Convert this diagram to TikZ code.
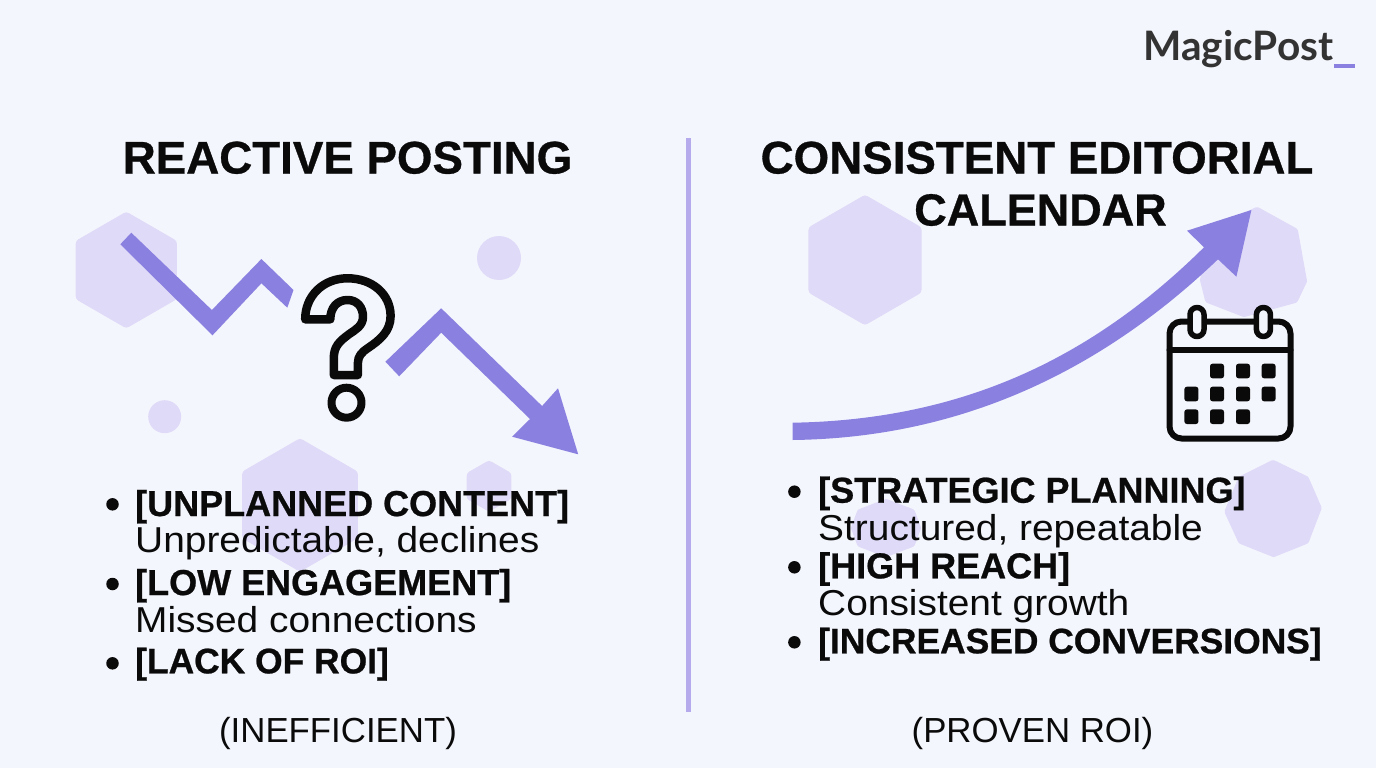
\documentclass[tikz,border=0pt]{standalone}
\usepackage{fontspec}
\setmainfont{Liberation Sans}
\newfontfamily\logofont{Lato}
\newfontfamily\bodyfont[FakeStretch=1.08]{Liberation Sans}
\newfontfamily\heavyfont[FakeBold=0.7]{Liberation Sans Bold}
\definecolor{bgc}{HTML}{F4F6FD}
\definecolor{pur}{HTML}{8A80E0}
\definecolor{hexc}{HTML}{DFDAF8}
\definecolor{divc}{HTML}{B5ABEC}
\definecolor{ink}{HTML}{0A0A0A}
\definecolor{logoc}{HTML}{333333}
\tikzset{
  hexa/.style={fill=hexc,draw=hexc,line width=10pt,line join=round},
  softpoly/.style={fill=hexc,draw=hexc,line width=6pt,line join=round},
  arrowshape/.style={fill=pur},
  heading/.style={font=\heavyfont\fontsize{45.7}{54}\selectfont,text=ink,anchor=base,inner sep=0pt},
  bodytext/.style={font=\bodyfont\fontsize{36}{38}\selectfont,text=ink,anchor=base west,inner sep=0pt},
  boldtext/.style={font=\heavyfont\fontsize{36}{38}\selectfont,text=ink,anchor=base west,inner sep=0pt},
  bulletdot/.style={circle,fill=ink,inner sep=0pt,minimum size=12.5pt},
  foot/.style={font=\fontsize{34.8}{40}\selectfont,text=ink,anchor=base,inner sep=0pt},
  iconline/.style={draw=ink,line join=round,line cap=round},
  dotcell/.style={fill=ink,rounded corners=2.5pt}
}
\newcommand{\hexat}[3]{\path[hexa] (#1,#2-#3+5) -- ++(0.866*#3-4.33,0.5*#3-2.5) -- ++(0,#3-5) -- ++(-0.866*#3+4.33,0.5*#3-2.5) -- ++(-0.866*#3+4.33,-0.5*#3+2.5) -- ++(0,-#3+5) -- cycle;}
\begin{document}
\begin{tikzpicture}[x=1pt,y=-1pt]
\useasboundingbox (0,0) rectangle (1376,768);
\fill[bgc] (0,0) rectangle (1376,768);
% decorative shapes
\hexat{126.3}{270}{57.6}
\hexat{300}{505}{66}
\hexat{489}{486}{25}
\hexat{865}{260}{64.5}
\fill[hexc] (499,258) circle (22);
\fill[hexc] (164.7,416.7) circle (16.5);
\path[softpoly] (1257,210) -- (1295,231) -- (1304,281) -- (1295,300) -- (1244,314) -- (1208,300) -- (1203,280) -- (1215,230) -- cycle;
\path[softpoly] (1273,463) -- (1306,479) -- (1318.6,508) -- (1306,541) -- (1273.6,554) -- (1241,541) -- (1227.5,511.7) -- (1241,479) -- cycle;
\path[softpoly] (886,502) -- (912,512) -- (918,528) -- (912,544) -- (886,554) -- (860,544) -- (854,528) -- (860,512) -- cycle;
% divider
\fill[divc] (685.5,138) rectangle (690.5,712);
% zigzag
\fill[arrowshape] (120.3,244.3) -- (131.3,232.7) -- (211.9,310) -- (261.4,259) -- (293.5,290) -- (287.3,307.7) -- (261.4,283.3) -- (212.5,335.3) -- cycle;
\fill[arrowshape] (385.4,361.7) -- (441.2,308.3) -- (542.1,406) -- (558,388.3) -- (578.2,454.3) -- (512.1,436.7) -- (530,419) -- (441.2,332.7) -- (399.2,376.3) -- cycle;
% question mark
\draw[iconline,line width=8.5pt] (305.2,319.3) -- (330.3,319.3) .. controls (330.3,308) and (337,300) .. (347.5,300) .. controls (357,300) and (363,307) .. (363,316.7) .. controls (363,326) and (355,330) .. (349.3,334) .. controls (340,341) and (333.8,346) .. (333.8,358) -- (333.8,375) -- (357.9,375) -- (357.9,363) .. controls (357.9,356) and (362,352) .. (368,348) .. controls (380,340) and (390.6,331) .. (390.6,316) .. controls (390.6,294) and (372,278.3) .. (347.5,278.3) .. controls (323,278.3) and (305.2,296) .. (305.2,319.3) -- cycle;
\draw[iconline,line width=8pt] (346.5,402.7) circle (15);
% rising arrow
\fill[arrowshape] (792.5,422.7) .. controls (960,420) and (1090,360) .. (1204,247.3) -- (1187,230.7) -- (1251.4,210) -- (1236.4,276.7) -- (1218,259.3) .. controls (1100,372) and (960,438) .. (792.5,440) -- cycle;
% calendar
\draw[iconline,line width=6pt,rounded corners=12pt] (1169.5,321.5) rectangle (1290.5,438.5);
\draw[iconline,line width=6pt] (1169.5,349.5) -- (1290.5,349.5);
\draw[iconline,line width=5.5pt,fill=bgc,rounded corners=7pt] (1190,307.5) rectangle (1204,336.5);
\draw[iconline,line width=5.5pt,fill=bgc,rounded corners=7pt] (1256.4,307.5) rectangle (1270.4,336.5);
\foreach \cx/\cy in {1217/371,1243/371,1268.6/371,1191.4/394,1217/394,1243/394,1268.6/394,1191.4/416.7,1217/416.7,1243/416.7}
  \fill[dotcell] (\cx-7,\cy-7.3) rectangle (\cx+7,\cy+7.3);
% logo
\node[font=\logofont\fontsize{40.6}{44}\selectfont\bfseries,text=logoc,anchor=base west,inner sep=0pt] (logo) at (1143,60) {MagicPost};
\fill[pur] (1333.5,64) rectangle (1355,67.7);
% headings
\node[heading] (h1) at (347.5,173.5) {REACTIVE POSTING};
\node[heading] (h2) at (1037,173.5) {CONSISTENT EDITORIAL};
\node[heading,font=\heavyfont\fontsize{45}{54}\selectfont] (h3) at (1040.5,225.5) {CALENDAR};
% left list
\node[bulletdot] (b1) at (112.5,504.3) {};
\node[boldtext] (t1) at (135,516) {[UNPLANNED CONTENT]};
\node[bodytext] (t1a) at (135,552.7) {Unpredictable, declines};
\node[bulletdot] (b2) at (112.5,584) {};
\node[boldtext] (t2) at (135,595) {[LOW ENGAGEMENT]};
\node[bodytext] (t2a) at (135,632.7) {Missed connections};
\node[bulletdot] (b3) at (112.5,663.3) {};
\node[boldtext,font=\heavyfont\fontsize{35.4}{38}\selectfont] (t3) at (135,673.3) {[LACK OF ROI]};
% right list
\node[bulletdot] (b4) at (794.4,491.7) {};
\node[boldtext] (t4) at (818,502.7) {[STRATEGIC PLANNING]};
\node[bodytext] (t4a) at (818,540) {Structured, repeatable};
\node[bulletdot] (b5) at (794.4,567.3) {};
\node[boldtext] (t5) at (818,578.3) {[HIGH REACH]};
\node[bodytext] (t5a) at (818,615.7) {Consistent growth};
\node[bulletdot] (b6) at (794.4,642.3) {};
\node[boldtext,font=\heavyfont\fontsize{35.4}{38}\selectfont] (t6) at (818,653.3) {[INCREASED CONVERSIONS]};
% footers
\node[foot] (f1) at (338,742) {(INEFFICIENT)};
\node[foot] (f2) at (1032.5,742) {(PROVEN ROI)};
\end{tikzpicture}
\end{document}
